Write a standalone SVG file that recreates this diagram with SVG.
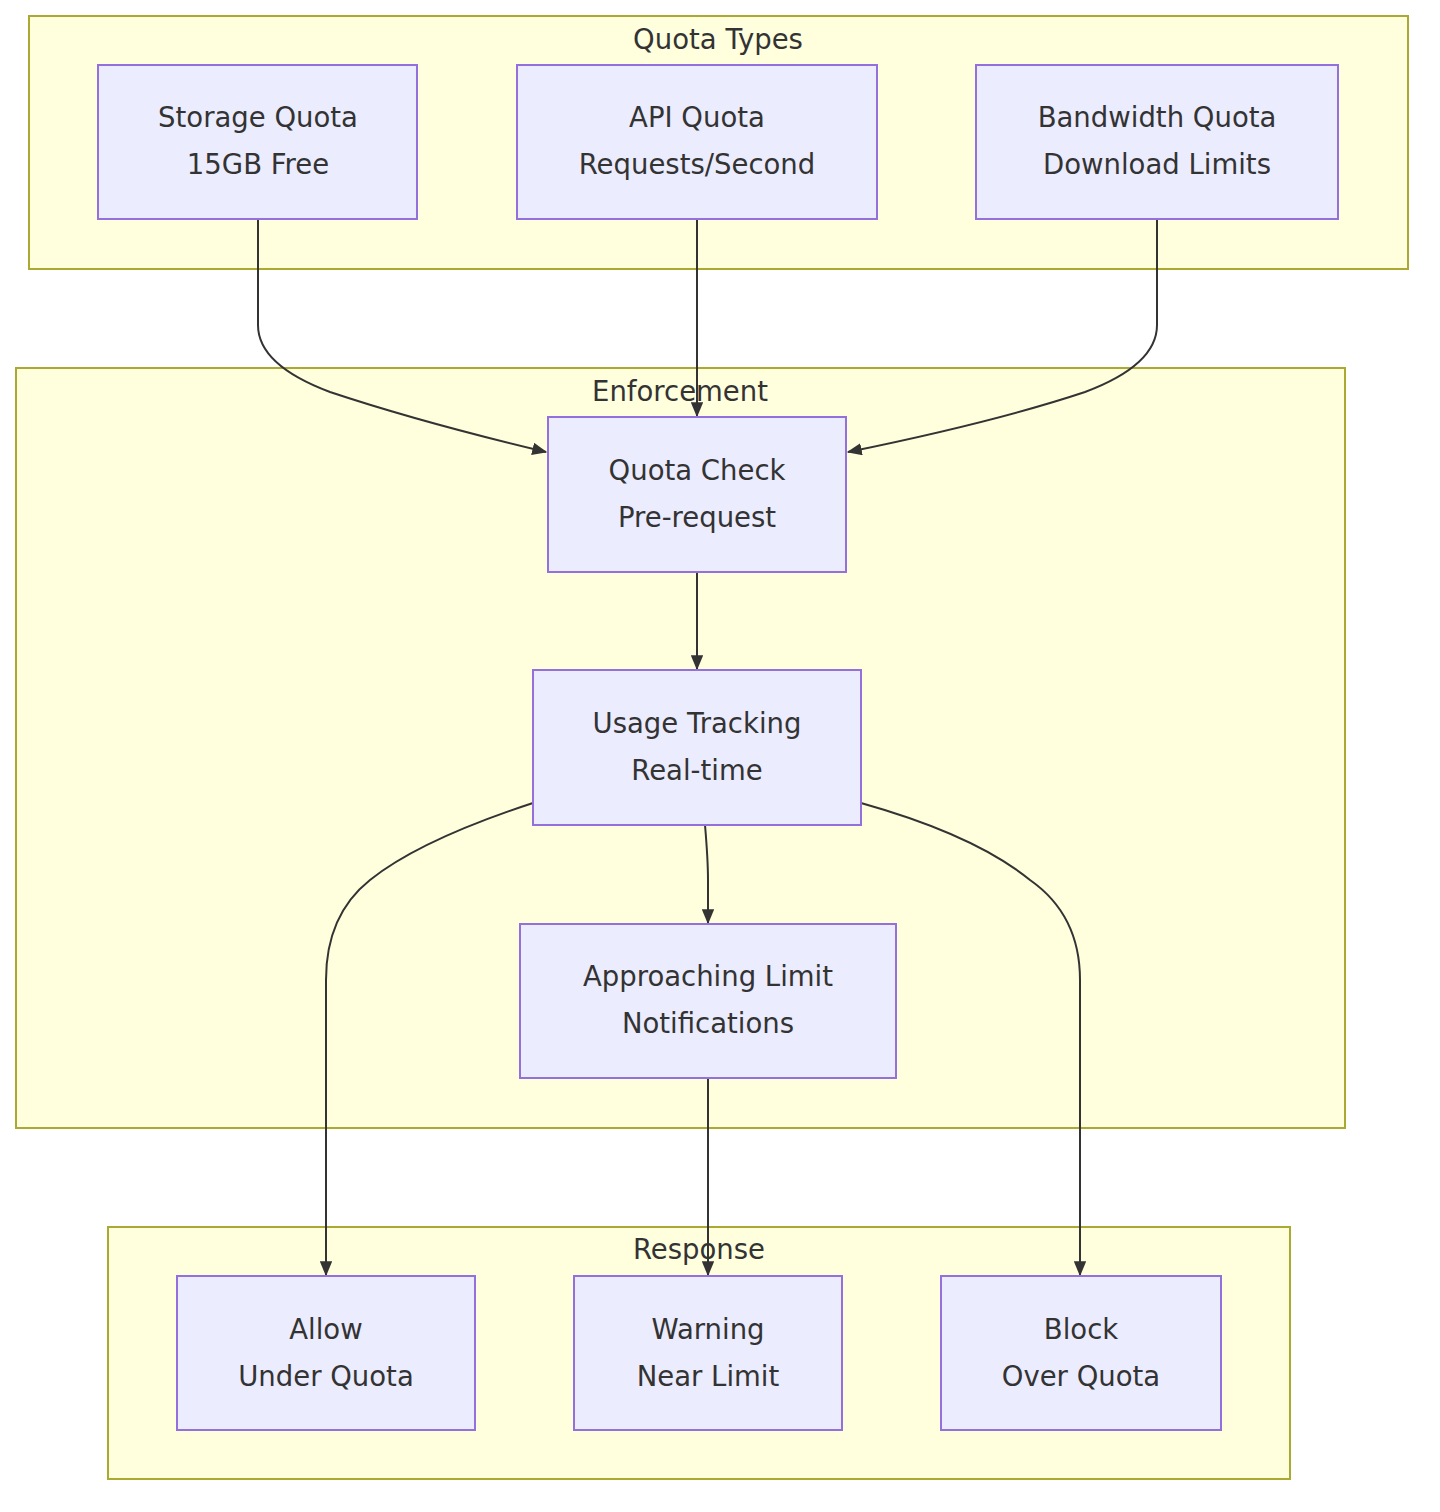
<svg xmlns="http://www.w3.org/2000/svg" width="1440" height="1512" viewBox="0 0 1440 1512">
<defs>
<style>
.cluster{fill:#ffffde;stroke:#aaaa33;stroke-width:2}
.node rect{fill:#ececff;stroke:#9370db;stroke-width:2}
text{font-family:"DejaVu Sans","Liberation Sans",sans-serif;font-size:27.5px;fill:#333;text-anchor:middle}
.edge{fill:none;stroke:#333;stroke-width:2;marker-end:url(#arr)}
</style>
<marker id="arr" viewBox="0 0 12 10" refX="11" refY="5" markerWidth="15" markerHeight="12.5" markerUnits="userSpaceOnUse" orient="auto">
<path d="M0,0 L12,5 L0,10 z" fill="#333"/>
</marker>
</defs>
<rect width="1440" height="1512" fill="#fff"/>
<g id="cluster-types"><rect class="cluster" x="29" y="16" width="1379" height="253"/><text x="718" y="49">Quota Types</text></g>
<g id="cluster-enforcement"><rect class="cluster" x="16" y="368" width="1329" height="760"/><text x="680" y="401">Enforcement</text></g>
<g id="cluster-response"><rect class="cluster" x="108" y="1227" width="1182" height="252"/><text x="699" y="1259">Response</text></g>
<g id="connectors">
<path class="edge" d="M258,219 V325 Q258,365 330,392 Q420,422 546,452"/>
<path class="edge" d="M697,219 V416"/>
<path class="edge" d="M1157,219 V325 Q1157,365 1085,392 Q995,422 848,452"/>
<path class="edge" d="M697,572 V669"/>
<path class="edge" d="M705,825 Q708,860 708,880 V923"/>
<path class="edge" d="M533,803 Q420,840 370,880 Q326,915 326,980 V1275"/>
<path class="edge" d="M861,803 Q975,835 1030,880 Q1080,915 1080,980 V1275"/>
<path class="edge" d="M708,1078 V1275"/>
</g>
<g id="storage" class="node"><rect x="98" y="65" width="319" height="154"/><text x="258" y="127">Storage Quota</text><text x="258" y="174">15GB Free</text></g>
<g id="api" class="node"><rect x="517" y="65" width="360" height="154"/><text x="697" y="127">API Quota</text><text x="697" y="174">Requests/Second</text></g>
<g id="bandwidth" class="node"><rect x="976" y="65" width="362" height="154"/><text x="1157" y="127">Bandwidth Quota</text><text x="1157" y="174">Download Limits</text></g>
<g id="check" class="node"><rect x="548" y="417" width="298" height="155"/><text x="697" y="480">Quota Check</text><text x="697" y="527">Pre-request</text></g>
<g id="tracking" class="node"><rect x="533" y="670" width="328" height="155"/><text x="697" y="733">Usage Tracking</text><text x="697" y="780">Real-time</text></g>
<g id="approaching" class="node"><rect x="520" y="924" width="376" height="154"/><text x="708" y="986">Approaching Limit</text><text x="708" y="1033">Notifications</text></g>
<g id="allow" class="node"><rect x="177" y="1276" width="298" height="154"/><text x="326" y="1339">Allow</text><text x="326" y="1386">Under Quota</text></g>
<g id="warning" class="node"><rect x="574" y="1276" width="268" height="154"/><text x="708" y="1339">Warning</text><text x="708" y="1386">Near Limit</text></g>
<g id="block" class="node"><rect x="941" y="1276" width="280" height="154"/><text x="1081" y="1339">Block</text><text x="1081" y="1386">Over Quota</text></g>
</svg>
